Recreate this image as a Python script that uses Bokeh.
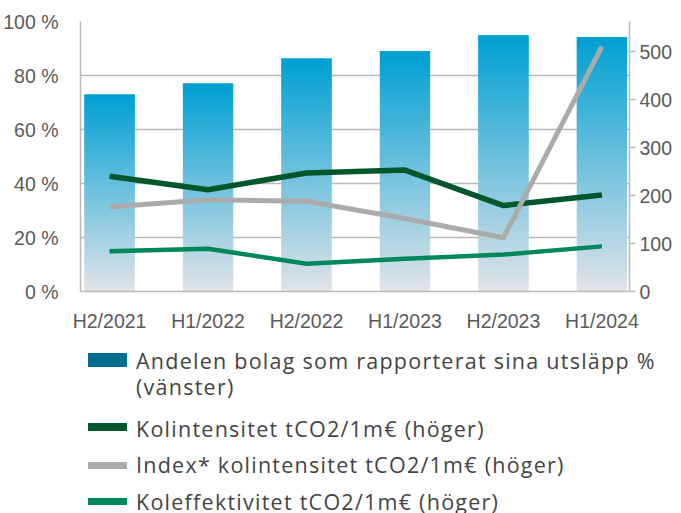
import numpy as np
from bokeh.plotting import figure
from bokeh.layouts import column
from bokeh.models import Range1d, LinearAxis, FixedTicker, PrintfTickFormatter, Div
from bokeh.embed import file_html
from bokeh.resources import INLINE

# ---- data ----
periods = ["H2/2021", "H1/2022", "H2/2022", "H1/2023", "H2/2023", "H1/2024"]
share_reported = [73.0, 77.0, 86.3, 89.1, 94.9, 94.3]          # % (left)
carbon_intensity = [240, 212, 247, 253, 179, 201]               # tCO2/1m€ (right)
index_intensity = [176, 191, 188, 152, 112, 510]                # tCO2/1m€ (right)
carbon_efficiency = [84, 89, 58, 68, 77, 94]                    # tCO2/1m€ (right)
left_ticks = [0, 20, 40, 60, 80, 100]
right_ticks = [0, 100, 200, 300, 400, 500]
legend_labels = ["Andelen bolag som rapporterat sina utsläpp %", "(vänster)",
                 "Kolintensitet tCO2/1m€ (höger)",
                 "Index* kolintensitet tCO2/1m€ (höger)",
                 "Koleffektivitet tCO2/1m€ (höger)"]

FONT = "Liberation Sans"
LEG_FONT = "Open Sans"
TICK_COLOR = "#5a5a5a"
GRID_COLOR = "#b9b9b9"
C_BAR = "#006f8d"
C_CI = "#00572b"
C_II = "#ababab"
C_CE = "#00885c"

x = np.arange(len(periods))

W = 665
TOP_H = 331
p = figure(width=W, height=TOP_H, frame_width=549, frame_height=270,
           output_backend="svg", toolbar_location=None,
           x_range=Range1d(-0.295, 5.28), y_range=Range1d(0, 100),
           min_border_left=73, min_border_top=21, min_border_right=43, min_border_bottom=40)
p.extra_y_ranges = {"right": Range1d(0, 562.5)}
p.outline_line_color = None
p.background_fill_color = "white"
p.border_fill_color = "white"

# gradient bars: overlapping slices from bottom to top of each bar
N = 60
top_c = np.array([0x00, 0xa0, 0xd3], dtype=float)
bot_c = np.array([0xe0, 0xe3, 0xe8], dtype=float)
xs, bots, tops, cols = [], [], [], []
for xi, v in zip(x, share_reported):
    for k in range(N):
        f = k / (N - 1)
        c = bot_c + (top_c - bot_c) * f
        xs.append(xi)
        bots.append(v * k / N)
        tops.append(min(v, v * (k + 2) / N))
        cols.append("#%02x%02x%02x" % tuple(int(round(t)) for t in c))
p.vbar(x=xs, bottom=bots, top=tops, width=0.51, fill_color=cols, line_color=None)

# lines
p.line(x, carbon_intensity, y_range_name="right", line_color=C_CI, line_width=5.5)
p.line(x, index_intensity, y_range_name="right", line_color=C_II, line_width=5)
p.line(x, carbon_efficiency, y_range_name="right", line_color=C_CE, line_width=4.5)

# axes
p.xaxis.ticker = FixedTicker(ticks=list(x))
p.xaxis.major_label_overrides = {int(i): s for i, s in zip(x, periods)}
p.xaxis.major_tick_line_color = None
p.xaxis.minor_tick_line_color = None
p.xaxis.axis_line_color = GRID_COLOR
p.xaxis.axis_line_width = 1.5
p.xaxis.major_label_text_font = FONT
p.xaxis.major_label_text_font_size = "19.5px"
p.xaxis.major_label_text_color = TICK_COLOR
p.xaxis.major_label_standoff = 12

p.yaxis.ticker = FixedTicker(ticks=left_ticks)
p.yaxis.formatter = PrintfTickFormatter(format="%d %%")
p.yaxis.major_tick_line_color = None
p.yaxis.minor_tick_line_color = None
p.yaxis.axis_line_color = GRID_COLOR
p.yaxis.axis_line_width = 1.5
p.yaxis.major_label_text_font = FONT
p.yaxis.major_label_text_font_size = "19.5px"
p.yaxis.major_label_text_color = TICK_COLOR
p.yaxis.major_label_standoff = 16

ry = LinearAxis(y_range_name="right", ticker=FixedTicker(ticks=right_ticks))
ry.major_tick_line_color = GRID_COLOR
ry.major_tick_line_width = 1.5
ry.major_tick_out = 6
ry.major_tick_in = 0
ry.minor_tick_line_color = None
ry.axis_line_color = GRID_COLOR
ry.axis_line_width = 1.5
ry.major_label_text_font = FONT
ry.major_label_text_font_size = "19.5px"
ry.major_label_text_color = TICK_COLOR
ry.major_label_standoff = 4
p.add_layout(ry, "right")

p.xgrid.grid_line_color = None
p.ygrid.ticker = FixedTicker(ticks=left_ticks)
p.ygrid.grid_line_color = GRID_COLOR
p.ygrid.grid_line_width = 1.5

# ---- legend as an HTML block below the chart (local pixel coordinates) ----
LEG_H = 513 - TOP_H
swatches = [  # (left, top, width, height, color)
    (88, 19, 39, 14, C_BAR),
    (88, 89, 39, 7.5, C_CI),
    (88, 128, 39, 7, C_II),
    (88, 164, 39, 6.5, C_CE),
]
text_tops = [15, 41, 83, 119, 156]
parts = []
for l, t, w, h, c in swatches:
    parts.append(f'<div style="position:absolute;left:{l}px;top:{t}px;width:{w}px;height:{h}px;background:{c};"></div>')
for t, s in zip(text_tops, legend_labels):
    parts.append(f'<div style="position:absolute;left:136px;top:{t}px;line-height:24px;white-space:nowrap;">{s}</div>')
html = (f'<div style="position:relative;width:{W}px;height:{LEG_H}px;overflow:hidden;'
        f'font-family:\'{LEG_FONT}\';font-size:21.5px;letter-spacing:1.25px;color:#444444;">'
        + "".join(parts) + '</div>')
leg = Div(text=html, width=W, height=LEG_H, margin=0)

open("out.html", "w").write(file_html(column(p, leg, spacing=0), INLINE))
